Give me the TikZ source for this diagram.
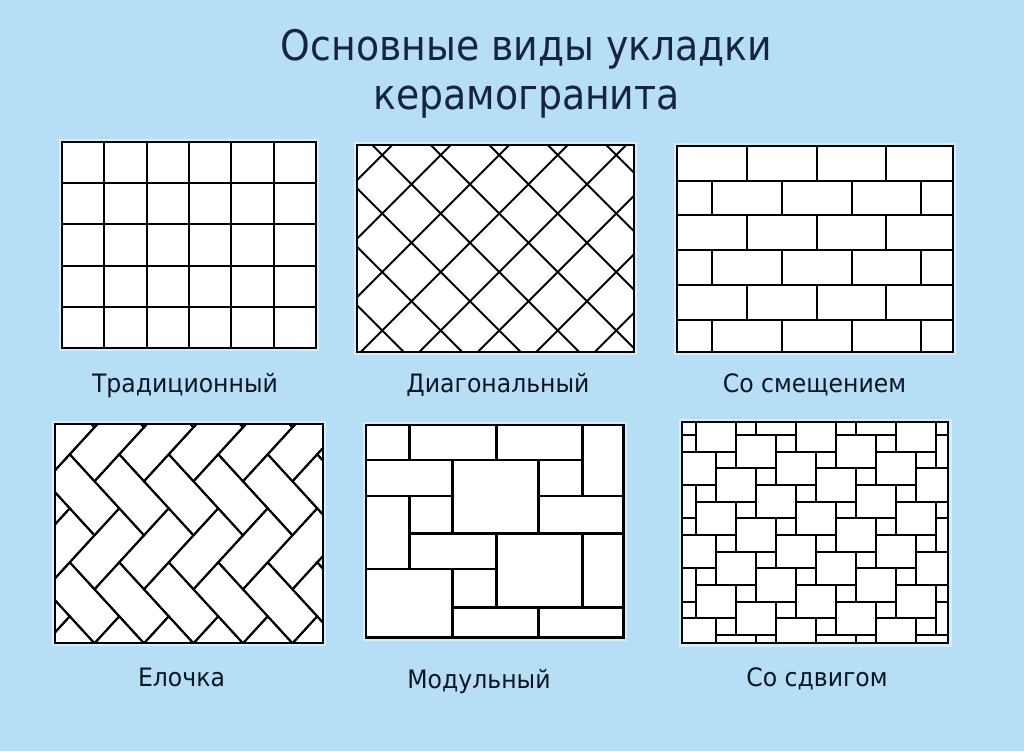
\documentclass[tikz,border=0pt]{standalone}
\usepackage{fontspec}
\setmainfont{DejaVu Sans}[FakeStretch=0.93]
\newfontfamily\ttlfont{DejaVu Sans}[FakeStretch=0.9]
\definecolor{bg}{RGB}{182,222,244}
\definecolor{halo}{RGB}{214,238,250}
\definecolor{titlec}{RGB}{22,36,66}
\definecolor{labelc}{RGB}{14,22,36}
\tikzset{
  tile/.style={draw=black, line width=1.5pt, line join=miter},
  mtile/.style={draw=black, line width=2.1pt},
  frame/.style={draw=black, line width=1.6pt},
  halobox/.style={draw=halo, line width=2.2pt},
  lbl/.style={anchor=base, text=labelc, font=\fontsize{19}{22}\selectfont, inner sep=0pt},
  ttl/.style={anchor=base, text=titlec, font=\ttlfont\fontsize{31.5}{36}\selectfont, inner sep=0pt}
}
\begin{document}
\begin{tikzpicture}[x=0.75pt, y=-0.75pt]
\useasboundingbox (0,0) rectangle (1024,751);
\fill[bg] (0,0) rectangle (1024,751);

% title
\node[ttl] (t1) at (526.5,60) {Основные виды укладки};
\node[ttl] (t2) at (526.5,109) {керамогранита};

% ---------- panel 1: traditional ----------
\draw[halobox] (60,140) rectangle (318,350);
\fill[white] (62,142) rectangle (316,348);
\foreach \i in {1,...,5} \draw[tile] ({62+42.33*\i},142) -- ({62+42.33*\i},348);
\foreach \j in {1,...,4} \draw[tile] (62,{142+41.2*\j}) -- (316,{142+41.2*\j});
\draw[frame] (62,142) rectangle (316,348);

% ---------- panel 2: diagonal ----------
\draw[halobox] (355.3,143) rectangle (636,353.7);
\fill[white] (357.3,145) rectangle (634,351.7);
\begin{scope}
\clip (357.3,145) rectangle (634,351.7);
\foreach \n in {-5,...,6} \draw[tile] ({227.3+58.5*\n+100},100) -- ({227.3+58.5*\n+400},400);
\foreach \m in {-2,...,9} \draw[tile] ({537.3+58.5*\m-100},100) -- ({537.3+58.5*\m-400},400);
\end{scope}
\draw[frame] (357.3,145) rectangle (634,351.7);

% ---------- panel 3: offset ----------
\draw[halobox] (675.3,144) rectangle (954.7,353.7);
\fill[white] (677.3,146) rectangle (952.7,351.7);
\foreach \j in {1,...,5} \draw[tile] (677.3,{146+34.7*\j}) -- (952.7,{146+34.7*\j});
\foreach \r in {0,2,4} \foreach \i in {1,2,3} \draw[tile] ({677.3+69.6*\i},{146+34.7*\r}) -- ({677.3+69.6*\i},{146+34.7*(\r+1)});
\foreach \r in {1,3} \foreach \i in {0,1,2,3} \draw[tile] ({712.3+69.6*\i},{146+34.7*\r}) -- ({712.3+69.6*\i},{146+34.7*(\r+1)});
\foreach \i in {0,1,2,3} \draw[tile] ({712.3+69.6*\i},{146+34.7*5}) -- ({712.3+69.6*\i},351.7);
\draw[frame] (677.3,146) rectangle (952.7,351.7);

% ---------- panel 4: herringbone ----------
\draw[halobox] (53,422) rectangle (325,645);
\fill[white] (55,424) rectangle (323,643);
\begin{scope}
\clip (55,424) rectangle (323,643);
\begin{scope}[shift={(94.5,481.3)}, x={(18.56pt,-20.25pt)}, y={(18.56pt,20.25pt)}]
\foreach \j in {-5,...,4} \foreach \k in {-8,...,11} {
  \draw[tile] ({\k-2*\j},{\k+2*\j}) -- ++(2,0) -- ++(0,1) -- ++(-2,0) -- cycle;
  \draw[tile] ({\k+2-2*\j},{\k-1+2*\j}) -- ++(1,0) -- ++(0,2) -- ++(-1,0) -- cycle;
}
\end{scope}
\end{scope}
\draw[frame] (55,424) rectangle (323,643);

% ---------- panel 5: modular ----------
\def\cx{{366,409.3,452.3,496.7,538.3,582.7,623.3}}
\def\ry{{425,460,496,533.3,569,607.3,637.3}}
\draw[halobox] (364,423) rectangle (625.3,639.3);
\fill[white] (366,425) rectangle (623.3,637.3);
\foreach \a/\b/\c/\d in {0/1/0/1,1/3/0/1,3/5/0/1,5/6/0/2,0/2/1/2,2/4/1/3,4/5/1/2,0/1/2/4,1/2/2/3,4/6/2/3,1/3/3/4,3/5/3/5,5/6/3/5,0/2/4/6,2/3/4/5,2/4/5/6,4/6/5/6}
  \draw[mtile] ({\cx[\a]},{\ry[\c]}) rectangle ({\cx[\b]},{\ry[\d]});
\draw[mtile] (366,425) rectangle (623.3,637.3);

% ---------- panel 6: pinwheel ----------
\draw[halobox] (680,420) rectangle (950.3,645.3);
\fill[white] (682,422) rectangle (948.3,643.3);
\begin{scope}
\clip (682,422) rectangle (948.3,643.3);
\begin{scope}[shift={(696,435)}, x={(15pt,0pt)}, y={(0pt,-12.5pt)}]
\foreach \m in {-3,...,9} \foreach \n in {-5,...,7} {
  \draw[tile] ({2*\m-\n},{\m+2*\n-1}) rectangle ++(2,2);
  \draw[tile] ({2*\m-\n-1},{\m+2*\n}) rectangle ++(1,1);
}
\end{scope}
\end{scope}
\draw[frame] (682,422) rectangle (948.3,643.3);

% labels
\node[lbl] (l1) at (185,392) {Традиционный};
\node[lbl] (l2) at (498,392) {Диагональный};
\node[lbl] (l3) at (814.5,392.5) {Со смещением};
\node[lbl] (l4) at (181.5,686) {Елочка};
\node[lbl] (l5) at (479,688.5) {Модульный};
\node[lbl] (l6) at (817,686) {Со сдвигом};
\end{tikzpicture}
\end{document}
